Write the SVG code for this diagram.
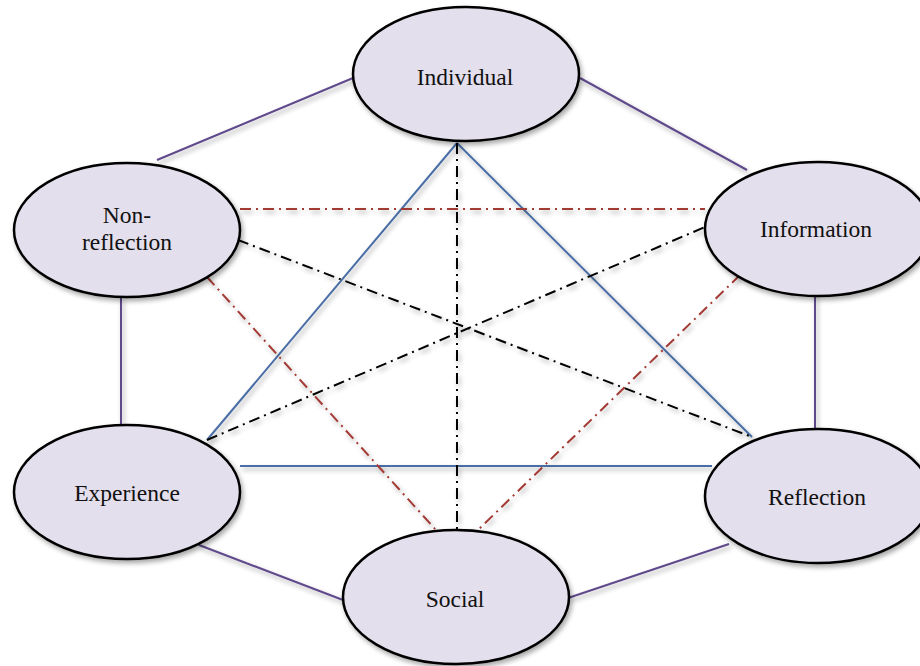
<svg xmlns="http://www.w3.org/2000/svg" width="920" height="666" viewBox="0 0 920 666">
  <defs>
    <filter id="shadow" filterUnits="userSpaceOnUse" x="0" y="0" width="920" height="666">
      <feGaussianBlur in="SourceAlpha" stdDeviation="2.5"/>
      <feOffset dx="2" dy="3" result="b"/>
      <feComponentTransfer><feFuncA type="linear" slope="0.35"/></feComponentTransfer>
      <feMerge><feMergeNode/><feMergeNode in="SourceGraphic"/></feMerge>
    </filter>
  </defs>
  <style>
    .edge { fill: none; stroke-width: 2; filter: url(#shadow); }
    .ring { stroke: #5e4a8b; }
    .tri { stroke: #4a6ea5; }
    .axis { stroke: #000000; stroke-dasharray: 11 5 2 5; }
    .cross { stroke: #a33a35; stroke-dasharray: 11 5 2 5; }
    .node ellipse { fill: #e4dfec; stroke: #000000; stroke-width: 2.5; filter: url(#shadow); }
    .label { font-family: 'Liberation Serif', 'Times New Roman', serif; font-size: 23.5px; fill: #111111; text-anchor: middle; }
  </style>
  <rect width="920" height="666" fill="#ffffff"/>

  <g id="connectors">
    <!-- outer hexagon -->
    <line class="edge ring" x1="353" y1="78" x2="157" y2="160"/>
    <line class="edge ring" x1="580" y1="78" x2="747" y2="170"/>
    <line class="edge ring" x1="121" y1="297" x2="121" y2="425"/>
    <line class="edge ring" x1="815" y1="295" x2="815" y2="429"/>
    <line class="edge ring" x1="199" y1="545" x2="343" y2="600"/>
    <line class="edge ring" x1="568" y1="598" x2="729" y2="544"/>
    <!-- inner triangle -->
    <line class="edge tri" x1="457" y1="143" x2="207" y2="440"/>
    <line class="edge tri" x1="457" y1="143" x2="752" y2="437"/>
    <line class="edge tri" x1="240" y1="466" x2="712" y2="466"/>
    <!-- black dash-dot axes -->
    <line class="edge axis" x1="457" y1="143" x2="457" y2="530"/>
    <line class="edge axis" x1="238" y1="240" x2="752" y2="437"/>
    <line class="edge axis" x1="207" y1="440" x2="705" y2="227"/>
    <!-- red dash-dot crossings -->
    <line class="edge cross" x1="240" y1="209" x2="705" y2="209"/>
    <line class="edge cross" x1="207" y1="277" x2="436" y2="530"/>
    <line class="edge cross" x1="740" y1="275" x2="478" y2="530"/>
  </g>

  <g id="individual" class="node">
    <ellipse cx="466" cy="74" rx="113" ry="67"/>
    <text class="label" x="465" y="85">Individual</text>
  </g>
  <g id="non-reflection" class="node">
    <ellipse cx="127" cy="230" rx="113" ry="67"/>
    <text class="label" x="127" y="223">Non-</text>
    <text class="label" x="127" y="250">reflection</text>
  </g>
  <g id="information" class="node">
    <ellipse cx="818" cy="229" rx="113" ry="67"/>
    <text class="label" x="816" y="237">Information</text>
  </g>
  <g id="experience" class="node">
    <ellipse cx="127" cy="492" rx="113" ry="67"/>
    <text class="label" x="127" y="501">Experience</text>
  </g>
  <g id="reflection" class="node">
    <ellipse cx="818" cy="496" rx="113" ry="67"/>
    <text class="label" x="817" y="505">Reflection</text>
  </g>
  <g id="social" class="node">
    <ellipse cx="456" cy="597" rx="113" ry="67"/>
    <text class="label" x="455" y="607">Social</text>
  </g>
</svg>
